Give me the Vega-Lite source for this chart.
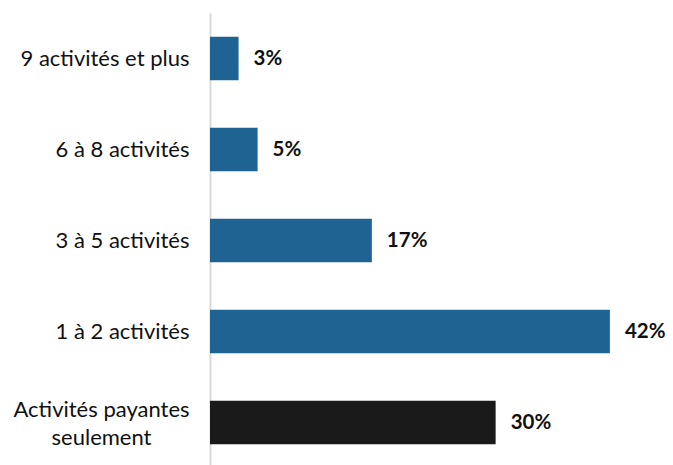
{
  "$schema": "https://vega.github.io/schema/vega-lite/v6.json",
  "autosize": "none",
  "width": 457,
  "height": 455,
  "padding": {"left": 210, "top": 13, "right": 6, "bottom": 0},
  "background": "white",
  "config": {"view": {"stroke": null}},
  "data": {"values": [
    {"cat": "9 activités et plus", "v": 3, "lbl": "3%", "grp": "a"},
    {"cat": "6 à 8 activités", "v": 5, "lbl": "5%", "grp": "a"},
    {"cat": "3 à 5 activités", "v": 17, "lbl": "17%", "grp": "a"},
    {"cat": "1 à 2 activités", "v": 42, "lbl": "42%", "grp": "a"},
    {"cat": "Activités payantes seulement", "v": 30, "lbl": "30%", "grp": "b"}
  ]},
  "encoding": {
    "y": {"field": "cat", "type": "nominal", "sort": null,
      "scale": {"paddingInner": 0.52, "paddingOuter": 0.26},
      "axis": {"title": null, "ticks": false, "domainColor": "#D9D9D9", "domainWidth": 2,
        "labelFont": "Lato", "labelFontSize": 22, "labelColor": "#111",
        "labelPadding": {"condition": {"test": "datum.value === 'Activités payantes seulement'", "value": 109}, "value": 21},
        "labelAlign": {"condition": {"test": "datum.value === 'Activités payantes seulement'", "value": "center"}, "value": "right"},
        "labelOffset": {"condition": {"test": "datum.value === 'Activités payantes seulement'", "value": -13}, "value": 0},
        "labelExpr": "datum.value === 'Activités payantes seulement' ? ['Activités payantes', 'seulement'] : datum.value",
        "labelLineHeight": 28, "labelLimit": 300}},
    "x": {"field": "v", "type": "quantitative", "scale": {"domain": [0, 48], "nice": false}, "axis": null}
  },
  "layer": [
    {"mark": {"type": "bar"},
      "encoding": {"color": {"field": "grp", "type": "nominal", "scale": {"domain": ["a", "b"], "range": ["#1F6393", "#1A1A1A"]}, "legend": null}}},
    {"mark": {"type": "text", "align": "left", "dx": 15, "font": "Lato", "fontSize": 20.5, "fontWeight": "bold", "color": "#111"},
      "encoding": {"text": {"field": "lbl", "type": "nominal"}}}
  ]
}
